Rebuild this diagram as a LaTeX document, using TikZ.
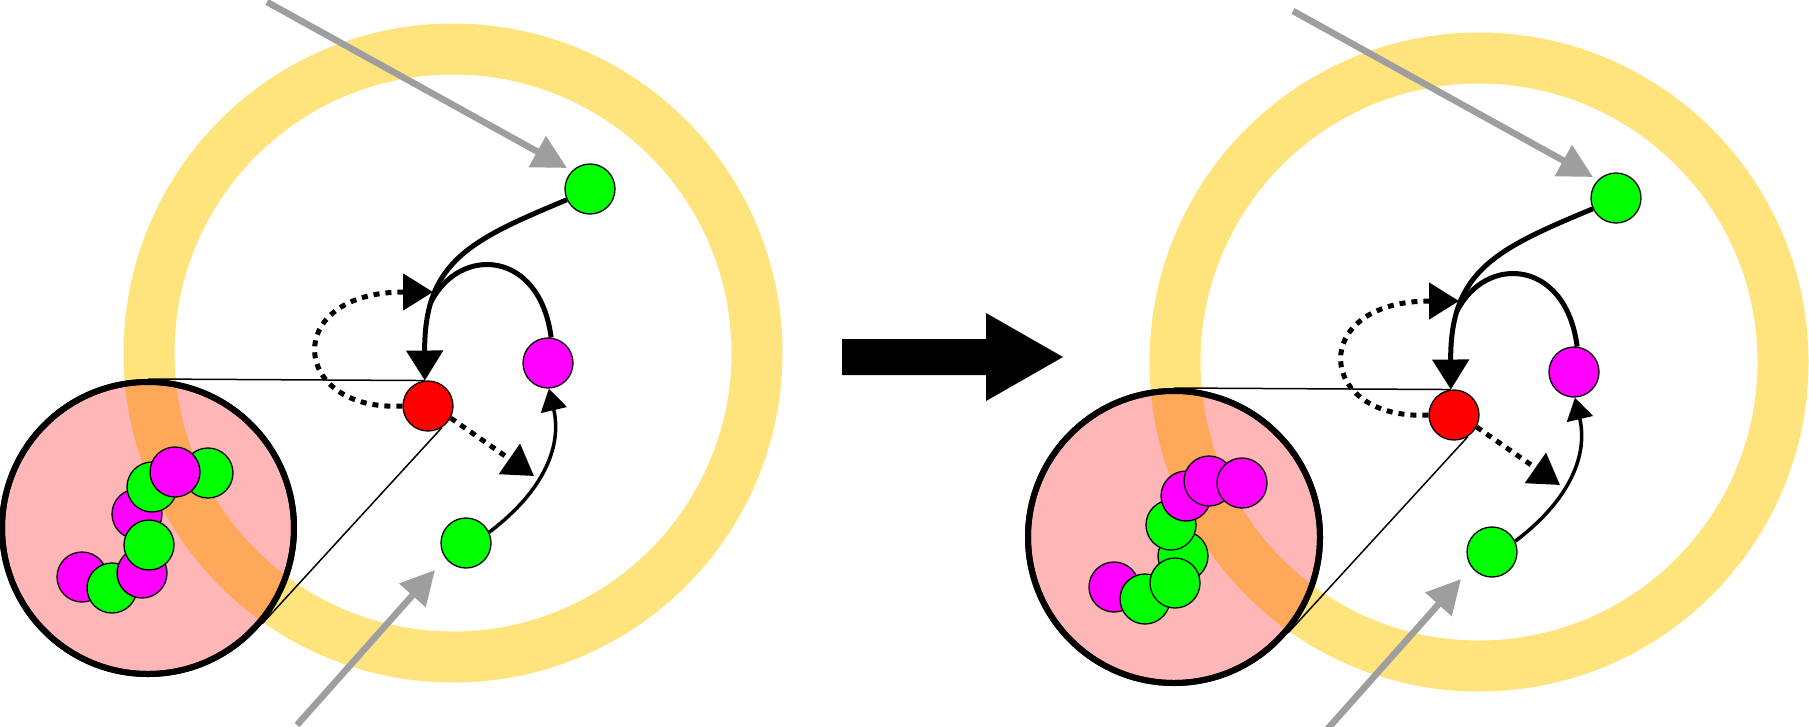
\documentclass[tikz,border=0pt]{standalone}
\usetikzlibrary{arrows.meta}
\definecolor{ringY}{HTML}{FFE47E}
\definecolor{pinkM}{HTML}{FFB6B6}
\definecolor{orangeM}{HTML}{FFA85A}
\definecolor{grn}{HTML}{00FF00}
\definecolor{mag}{HTML}{FF00FF}
\definecolor{grayA}{HTML}{9E9E9E}
\tikzset{
  ball/.style={circle,draw=black,line width=1.3pt,minimum size=50pt,inner sep=0pt},
  gball/.style={ball,fill=grn},
  mball/.style={ball,fill=mag},
  rball/.style={ball,fill=red},
  grayarrow/.style={draw=grayA,line width=6.5pt,-{Triangle[width=34pt,length=34pt]}},
  thick arr/.style={line width=5pt,-{Triangle[width=36pt,length=30pt]}},
  thin arr/.style={line width=3.5pt,-{Triangle[width=26pt,length=22pt]}},
  dotarr/.style={line width=5pt,dash pattern=on 6pt off 6pt,-{Triangle[width=36pt,length=30pt]}},
  zoomline/.style={line width=1.5pt},
}
\newcommand{\panelbase}[1]{%
  \draw[ringY,line width=51pt] (453,353) circle[radius=304];
  \node[circle,draw=black,line width=6pt,fill=pinkM,minimum size=292pt,inner sep=0pt] (mag#1) at (148,528) {};
  \begin{scope}
    \clip (148,528) circle[radius=143];
    \draw[orangeM,line width=51pt] (453,353) circle[radius=304];
  \end{scope}
  \draw[line width=6pt] (148,528) circle[radius=146];
  \node[rball] (red#1) at (428,406) {};
  \node[mball] (mg#1) at (548,363) {};
  \node[gball] (gt#1) at (590,189) {};
  \node[gball] (gb#1) at (466,543) {};
  \coordinate (ga1#1) at (267,2);
  \coordinate (gt1#1) at (567,168);
  \coordinate (ga2#1) at (297,725);
  \coordinate (gt2#1) at (435,570);
  \coordinate (lp#1) at (431,302);
  \coordinate (d1#1) at (433,292);
  \coordinate (d2#1) at (534,476);
  \draw[grayarrow] (ga1#1) -- (gt1#1);
  \draw[grayarrow] (ga2#1) -- (gt2#1);
  \draw[zoomline] (mag#1.north) -- (red#1.97);
  \draw[zoomline] (mag#1.-40) -- (red#1.-57);
  \draw[thick arr] (gt#1.205) .. controls (470,240) and (424,262) .. (red#1.97);
  \draw[line width=5pt] (lp#1) .. controls (460,245) and (540,250) .. (mg#1.83);
  \draw[thin arr] (gb#1.25) .. controls (545,490) and (562,445) .. (mg#1.-88);
  \draw[dotarr] (red#1.180) .. controls (290,412) and (280,292) .. (d1#1);
  \draw[dotarr] (red#1.-28) -- (d2#1);
}
\begin{document}
\begin{tikzpicture}[x=1pt,y=-1pt]
\useasboundingbox (0,0) rectangle (1809,726);
\fill[white] (0,0) rectangle (1809,726);
% left panel
\panelbase{L}
\node[mball] (bL5) at (137,514) {};
\node[gball] (bL8) at (208,473) {};
\node[gball] (bL6) at (152,487) {};
\node[mball] (bL7) at (175,472) {};
\node[mball] (bL1) at (82,577) {};
\node[gball] (bL2) at (112,588) {};
\node[mball] (bL3) at (142,573) {};
\node[gball] (bL4) at (149,545) {};
% big arrow
\fill[black] (842,339) -- (986,339) -- (986,313) -- (1063,357) -- (986,401) -- (986,375) -- (842,375) -- cycle;
% right panel
\begin{scope}[shift={(1026,9)}]
\panelbase{R}
\node[mball] (bR1) at (88,578) {};
\node[gball] (bR2) at (119,590) {};
\node[gball] (bR4) at (157,547) {};
\node[gball] (bR3) at (149,574) {};
\node[gball] (bR5) at (145,516) {};
\node[mball] (bR6) at (160,487) {};
\node[mball] (bR7) at (183,472) {};
\node[mball] (bR8) at (216,474) {};
\end{scope}
\end{tikzpicture}
\end{document}
